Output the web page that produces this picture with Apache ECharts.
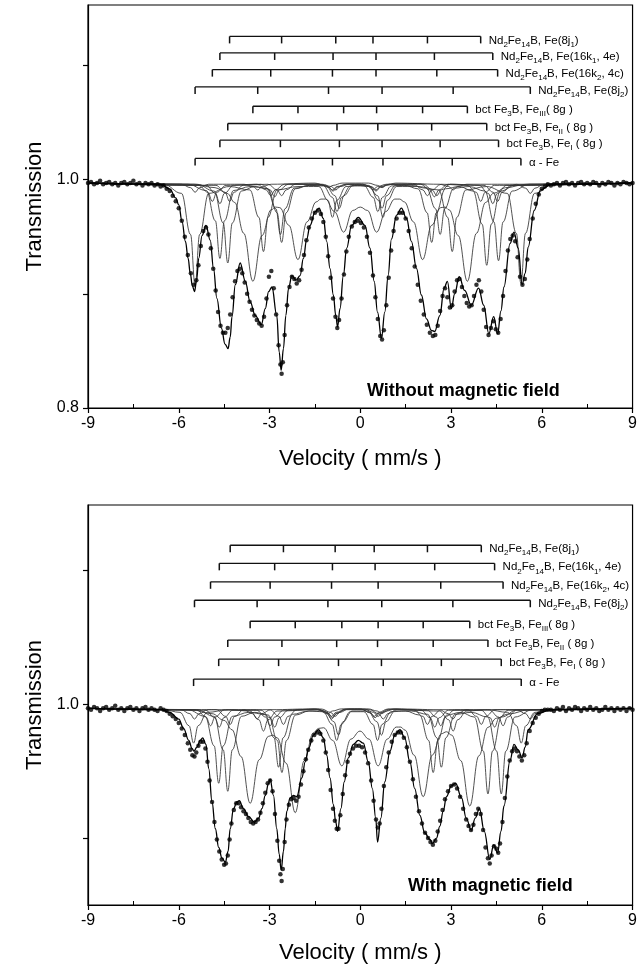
<!DOCTYPE html>
<html>
<head>
<meta charset="utf-8">
<script src="https://cdn.jsdelivr.net/npm/echarts@6/dist/echarts.min.js"></script>
<style>
  html, body { margin: 0; padding: 0; background: #fff; }
  #chart { width: 640px; height: 975px; }
</style>
</head>
<body>
<div id="chart"></div>
<script>
// Mössbauer spectra of a Nd2Fe14B / Fe3B / α-Fe nanocomposite, without and with magnetic field.

// ---------- tick labels ----------
const xTicks = [-9, -6, -3, 0, 3, 6, 9];
const xMinorTicks = [-7.5, -4.5, -1.5, 1.5, 4.5, 7.5];
const topYTicks = [0.8, 0.9, 1.0, 1.1];
const topYLabels = [0.8, 1.0];
const botYTicks = [0.9, 1.0, 1.1];
const botYLabels = [1.0];

// ---------- sub-spectrum line positions (mm/s) ----------
const siteNames = [
  'Nd_{2}Fe_{14}B, Fe(8j_{1})',
  'Nd_{2}Fe_{14}B, Fe(16k_{1}, 4e)',
  'Nd_{2}Fe_{14}B, Fe(16k_{2}, 4c)',
  'Nd_{2}Fe_{14}B, Fe(8j_{2})',
  'bct Fe_{3}B, Fe_{III}( 8g )',
  'bct Fe_{3}B, Fe_{II} ( 8g )',
  'bct Fe_{3}B, Fe_{I} ( 8g )',
  'α - Fe'
];
const topLines = [
  [-4.32, -2.60, -0.81, 0.42, 2.22, 3.98],
  [-4.64, -2.83, -0.90, 0.52, 2.45, 4.38],
  [-4.89, -2.96, -0.92, 0.52, 2.53, 4.54],
  [-5.46, -3.39, -1.05, 0.72, 3.07, 5.62],
  [-3.55, -2.06, -0.55, 0.54, 2.06, 3.54],
  [-4.38, -2.60, -0.77, 0.58, 2.36, 4.18],
  [-4.64, -2.64, -0.69, 0.72, 2.64, 4.57],
  [-5.46, -3.20, -0.92, 0.75, 3.04, 5.31]
];
const botLines = [
  [-4.30, -2.54, -0.83, 0.46, 2.22, 4.00],
  [-4.66, -2.83, -0.92, 0.49, 2.46, 4.44],
  [-4.95, -2.98, -0.95, 0.59, 2.66, 4.72],
  [-5.48, -3.41, -1.07, 0.71, 3.06, 5.62],
  [-3.64, -2.15, -0.61, 0.59, 2.08, 3.62],
  [-4.38, -2.59, -0.78, 0.57, 2.41, 4.22],
  [-4.68, -2.70, -0.72, 0.70, 2.68, 4.66],
  [-5.51, -3.20, -0.95, 0.76, 3.07, 5.32]
];

// ---------- measured spectra (velocity, transmission) ----------
const topDots = [
  [-9.0,.997],[-8.9,.998],[-8.8,.996],[-8.7,.997],[-8.6,.999],[-8.5,.996],[-8.4,.997],[-8.3,.998],[-8.2,.996],[-8.1,.997],
  [-8.0,.995],[-7.9,.997],[-7.8,.998],[-7.7,.996],[-7.6,.997],[-7.5,.999],[-7.4,.996],[-7.3,.997],[-7.2,.995],[-7.1,.997],
  [-7.0,.996],[-6.9,.997],[-6.8,.995],[-6.7,.996],[-6.6,.994],[-6.5,.995],
  [-6.4,.992],[-6.3,.990],[-6.2,.986],[-6.1,.981],[-6.0,.975],[-5.9,.964],[-5.8,.950],[-5.7,.934],[-5.6,.918],[-5.5,.908],
  [-5.42,.912],[-5.35,.925],[-5.27,.942],[-5.19,.955],[-5.1,.958],[-5.02,.952],[-4.94,.940],[-4.86,.922],[-4.78,.903],[-4.7,.884],
  [-4.62,.872],[-4.54,.866],[-4.46,.866],[-4.38,.870],[-4.3,.882],[-4.22,.897],[-4.14,.911],[-4.06,.920],[-3.98,.922],[-3.9,.918],
  [-3.82,.910],[-3.74,.900],[-3.66,.893],[-3.58,.886],[-3.5,.881],[-3.42,.877],[-3.34,.874],[-3.26,.872],[-3.18,.880],[-3.1,.896],
  [-3.02,.915],[-2.94,.920],[-2.86,.905],[-2.78,.882],[-2.7,.855],[-2.64,.838],[-2.6,.830],[-2.56,.840],[-2.5,.864],[-2.42,.890],
  [-2.34,.906],[-2.26,.915],[-2.18,.913],[-2.1,.909],[-2.02,.912],[-1.94,.921],[-1.86,.934],[-1.78,.947],[-1.7,.958],[-1.6,.966],
  [-1.5,.971],[-1.4,.973],[-1.3,.970],[-1.22,.963],[-1.14,.950],[-1.06,.933],[-0.98,.914],[-0.9,.896],[-0.82,.880],[-0.76,.870],
  [-0.7,.877],[-0.62,.896],[-0.54,.917],[-0.46,.937],[-0.38,.950],[-0.28,.959],[-0.18,.963],[-0.08,.964],[0.02,.962],[0.12,.958],
  [0.22,.950],[0.32,.936],[0.42,.916],[0.5,.897],[0.58,.878],[0.66,.863],[0.72,.860],[0.78,.868],[0.86,.890],[0.94,.914],
  [1.02,.938],[1.1,.955],[1.2,.966],[1.3,.971],[1.4,.971],[1.5,.966],[1.6,.955],[1.7,.940],[1.8,.924],[1.9,.908],
  [2.0,.894],[2.1,.882],[2.2,.873],[2.3,.866],[2.4,.863],[2.48,.864],[2.56,.872],[2.64,.885],[2.72,.898],[2.8,.905],
  [2.88,.897],[2.96,.888],[3.04,.890],[3.12,.902],[3.2,.912],[3.28,.913],[3.36,.906],[3.44,.898],[3.52,.892],[3.6,.889],
  [3.68,.890],[3.76,.898],[3.84,.908],[3.92,.912],[4.0,.902],[4.08,.886],[4.16,.871],[4.24,.864],[4.32,.870],[4.4,.876],
  [4.48,.869],[4.56,.866],[4.64,.878],[4.72,.898],[4.8,.920],[4.88,.938],[4.96,.948],[5.04,.951],[5.12,.946],[5.2,.932],
  [5.28,.915],[5.36,.908],[5.44,.913],[5.52,.930],[5.6,.948],[5.7,.966],[5.8,.979],[5.9,.987],[6.0,.992],[6.1,.994],[6.2,.996],
  [6.3,.995],[6.4,.996],[6.5,.997],[6.6,.995],[6.7,.997],[6.8,.998],[6.9,.996],[7.0,.997],[7.1,.995],[7.2,.997],
  [7.3,.998],[7.4,.996],[7.5,.997],[7.6,.996],[7.7,.998],[7.8,.997],[7.9,.995],[8.0,.997],[8.1,.996],[8.2,.998],
  [8.3,.997],[8.4,.995],[8.5,.997],[8.6,.996],[8.7,.998],[8.8,.997],[8.9,.996],[9.0,.997]
];
const botDots = [
  [-9.0,.997],[-8.9,.996],[-8.8,.998],[-8.7,.997],[-8.6,.995],[-8.5,.997],[-8.4,.998],[-8.3,.996],[-8.2,.997],[-8.1,.999],
  [-8.0,.996],[-7.9,.997],[-7.8,.995],[-7.7,.997],[-7.6,.998],[-7.5,.996],[-7.4,.997],[-7.3,.995],[-7.2,.997],[-7.1,.998],
  [-7.0,.996],[-6.9,.997],[-6.8,.996],[-6.7,.995],[-6.6,.997],[-6.5,.996],
  [-6.4,.995],[-6.3,.993],[-6.2,.991],[-6.1,.989],[-6.0,.986],[-5.9,.982],[-5.8,.977],[-5.7,.971],[-5.62,.966],[-5.55,.962],
  [-5.48,.961],[-5.42,.964],[-5.35,.969],[-5.28,.972],[-5.2,.972],[-5.12,.967],[-5.05,.957],[-4.98,.943],[-4.9,.927],[-4.82,.912],
  [-4.74,.899],[-4.66,.890],[-4.58,.884],[-4.5,.880],[-4.44,.881],[-4.38,.887],[-4.32,.899],[-4.26,.911],[-4.18,.921],[-4.1,.926],
  [-4.02,.926],[-3.94,.923],[-3.86,.920],[-3.78,.918],[-3.7,.915],[-3.62,.912],[-3.54,.911],[-3.46,.912],[-3.38,.914],[-3.3,.919],
  [-3.22,.926],[-3.14,.934],[-3.06,.941],[-2.98,.943],[-2.9,.935],[-2.82,.918],[-2.74,.898],[-2.68,.883],[-2.64,.873],[-2.6,.868],
  [-2.56,.877],[-2.5,.897],[-2.44,.914],[-2.36,.925],[-2.28,.929],[-2.2,.930],[-2.12,.928],[-2.04,.931],[-1.96,.940],[-1.88,.950],
  [-1.8,.959],[-1.72,.966],[-1.62,.973],[-1.52,.977],[-1.42,.979],[-1.32,.978],[-1.22,.973],[-1.14,.964],[-1.06,.951],[-0.98,.936],
  [-0.9,.922],[-0.84,.913],[-0.78,.907],[-0.72,.907],[-0.66,.917],[-0.58,.933],[-0.5,.947],[-0.42,.957],[-0.34,.963],[-0.24,.967],
  [-0.14,.969],[-0.04,.969],[0.06,.968],[0.16,.964],[0.26,.956],[0.36,.943],[0.44,.928],[0.52,.914],[0.58,.908],[0.64,.911],
  [0.7,.922],[0.78,.939],[0.86,.953],[0.94,.964],[1.04,.972],[1.14,.977],[1.24,.979],[1.34,.979],[1.44,.975],[1.54,.968],
  [1.64,.957],[1.74,.944],[1.84,.931],[1.94,.920],[2.04,.911],[2.14,.904],[2.24,.900],[2.32,.897],[2.4,.895],[2.48,.898],
  [2.56,.905],[2.64,.913],[2.72,.921],[2.8,.929],[2.9,.935],[3.0,.939],[3.1,.940],[3.2,.937],[3.3,.931],[3.4,.922],
  [3.5,.914],[3.58,.909],[3.66,.906],[3.74,.910],[3.82,.918],[3.9,.922],[3.98,.918],[4.06,.906],[4.14,.893],[4.22,.885],
  [4.28,.881],[4.34,.887],[4.42,.894],[4.5,.892],[4.56,.889],[4.62,.896],[4.7,.912],[4.78,.930],[4.86,.946],[4.94,.958],
  [5.02,.965],[5.1,.967],[5.18,.965],[5.26,.961],[5.34,.958],[5.42,.962],[5.5,.971],[5.6,.980],[5.7,.986],[5.8,.990],
  [5.9,.993],[6.0,.995],[6.1,.996],[6.2,.996],
  [6.3,.996],[6.4,.995],[6.5,.997],[6.6,.996],[6.7,.998],[6.8,.995],[6.9,.997],[7.0,.996],[7.1,.998],[7.2,.997],
  [7.3,.995],[7.4,.997],[7.5,.996],[7.6,.998],[7.7,.996],[7.8,.997],[7.9,.995],[8.0,.996],[8.1,.998],[8.2,.996],
  [8.3,.997],[8.4,.995],[8.5,.997],[8.6,.996],[8.7,.997],[8.8,.995],[8.9,.997],[9.0,.996]
];

// ---------- fitted envelopes ----------
const topFit = [
  [-9,.997],[-6.6,.996],[-6.3,.992],[-6.1,.984],[-6.0,.978],[-5.89,.963],[-5.78,.946],[-5.69,.931],[-5.62,.918],[-5.55,.907],
  [-5.48,.902],[-5.41,.912],[-5.34,.931],[-5.23,.951],[-5.10,.960],[-4.96,.947],[-4.85,.922],[-4.74,.896],[-4.59,.870],[-4.47,.856],
  [-4.37,.852],[-4.30,.862],[-4.24,.880],[-4.13,.908],[-3.97,.927],[-3.80,.911],[-3.64,.893],[-3.47,.881],[-3.27,.873],[-3.14,.887],
  [-3.03,.902],[-2.92,.906],[-2.76,.881],[-2.68,.849],[-2.615,.833],[-2.54,.852],[-2.46,.881],[-2.37,.905],[-2.26,.916],[-2.12,.912],
  [-1.99,.916],[-1.88,.931],[-1.77,.948],[-1.66,.960],[-1.49,.972],[-1.36,.975],[-1.22,.966],[-1.11,.946],[-1.0,.922],[-0.89,.899],
  [-0.81,.881],[-0.75,.871],[-0.67,.887],[-0.56,.916],[-0.45,.940],[-0.285,.960],[-0.065,.967],[0.155,.960],[0.32,.940],[0.46,.911],
  [0.57,.884],[0.70,.861],[0.81,.884],[0.92,.916],[1.03,.948],[1.2,.969],[1.36,.975],[1.53,.966],[1.69,.946],[1.86,.922],
  [2.02,.899],[2.19,.878],[2.35,.868],[2.46,.867],[2.63,.881],[2.77,.905],[2.88,.911],[3.01,.887],[3.12,.900],[3.27,.915],
  [3.45,.903],[3.67,.890],[3.91,.905],[4.08,.890],[4.25,.865],[4.41,.880],[4.54,.865],[4.65,.885],[4.75,.906],[4.95,.944],
  [5.08,.954],[5.22,.940],[5.35,.908],[5.45,.918],[5.55,.941],[5.75,.973],[5.96,.991],[6.3,.996],[9,.997]
];
const botFit = [
  [-9,.997],[-6.6,.996],[-6.3,.994],[-6.0,.989],[-5.84,.982],[-5.67,.973],[-5.56,.967],[-5.5,.965],[-5.40,.968],[-5.29,.973],
  [-5.21,.975],[-5.10,.970],[-5.01,.952],[-4.90,.927],[-4.79,.907],[-4.68,.893],[-4.57,.885],[-4.46,.882],[-4.37,.890],[-4.30,.907],
  [-4.19,.922],[-4.08,.927],[-4.0,.928],[-3.86,.922],[-3.69,.916],[-3.5,.912],[-3.36,.915],[-3.25,.922],[-3.14,.932],[-3.03,.941],
  [-2.98,.944],[-2.87,.932],[-2.76,.907],[-2.68,.888],[-2.615,.876],[-2.54,.890],[-2.48,.907],[-2.43,.920],[-2.32,.930],[-2.21,.932],
  [-2.1,.931],[-1.93,.945],[-1.82,.957],[-1.71,.967],[-1.55,.977],[-1.38,.981],[-1.22,.975],[-1.11,.962],[-1.0,.945],[-0.89,.925],
  [-0.81,.912],[-0.75,.905],[-0.64,.922],[-0.53,.942],[-0.395,.960],[-0.23,.970],[-0.065,.973],[0.10,.971],[0.265,.957],[0.40,.937],
  [0.51,.915],[0.57,.897],[0.68,.915],[0.81,.942],[0.98,.965],[1.14,.977],[1.31,.981],[1.47,.975],[1.64,.957],[1.80,.937],
  [1.97,.917],[2.13,.904],[2.30,.899],[2.39,.896],[2.52,.900],[2.63,.909],[2.74,.920],[2.85,.931],[3.01,.939],[3.15,.941],
  [3.35,.930],[3.5,.915],[3.67,.906],[3.8,.915],[3.94,.922],[4.1,.905],[4.28,.884],[4.41,.895],[4.54,.889],[4.65,.905],
  [4.75,.924],[4.95,.958],[5.08,.970],[5.22,.966],[5.35,.960],[5.45,.968],[5.55,.981],[5.86,.993],[6.3,.996],[9,.997]
];

// ---------- fitted sub-spectra, without field ----------
const top8j1 = [[-9,.997],[-4.77,.995],[-4.47,.989],[-4.32,.981],[-4.17,.989],[-3.87,.995],[-3.05,.996],[-2.75,.991],[-2.60,.986],[-2.45,.991],[-2.15,.996],[-1.26,.996],[-0.96,.994],[-0.81,.991],[-0.66,.994],[-0.36,.996],[-0.03,.996],[0.27,.994],[0.42,.991],[0.57,.994],[0.87,.996],[1.77,.996],[2.07,.991],[2.22,.986],[2.37,.991],[2.67,.996],[3.53,.995],[3.83,.989],[3.98,.981],[4.13,.989],[4.43,.995],[9,.997]];
const top16k1 = [[-9,.997],[-5.09,.995],[-4.79,.988],[-4.64,.979],[-4.49,.988],[-4.19,.995],[-3.28,.996],[-2.98,.991],[-2.83,.985],[-2.68,.991],[-2.38,.996],[-1.35,.996],[-1.05,.9935],[-0.90,.990],[-0.75,.9935],[-0.45,.996],[0.07,.996],[0.37,.9935],[0.52,.990],[0.67,.9935],[0.97,.996],[2.00,.996],[2.30,.991],[2.45,.985],[2.60,.991],[2.90,.996],[3.93,.995],[4.23,.988],[4.38,.979],[4.53,.988],[4.83,.995],[9,.997]];
const top16k2 = [[-9,.997],[-5.34,.995],[-5.04,.989],[-4.89,.981],[-4.74,.989],[-4.44,.995],[-3.41,.996],[-3.11,.991],[-2.96,.986],[-2.81,.991],[-2.51,.996],[-1.37,.996],[-1.07,.994],[-0.92,.991],[-0.77,.994],[-0.47,.996],[0.07,.996],[0.37,.994],[0.52,.991],[0.67,.994],[0.97,.996],[2.08,.996],[2.38,.991],[2.53,.986],[2.68,.991],[2.98,.996],[4.09,.995],[4.39,.989],[4.54,.981],[4.69,.989],[4.99,.995],[9,.997]];
const top8j2 = [[-9,.997],[-5.91,.996],[-5.61,.993],[-5.46,.989],[-5.31,.993],[-5.01,.996],[-3.84,.996],[-3.54,.994],[-3.39,.991],[-3.24,.994],[-2.94,.996],[-1.5,.997],[-1.2,.995],[-1.05,.993],[-0.9,.995],[-0.6,.997],[0.27,.997],[0.57,.995],[0.72,.993],[0.87,.995],[1.17,.997],[2.62,.996],[2.92,.994],[3.07,.991],[3.22,.994],[3.52,.996],[5.17,.996],[5.47,.9925],[5.62,.988],[5.77,.9925],[6.07,.996],[9,.997]];
const topFe3 = [[-9,.997],[-5.5,.996],[-4.8,.993],[-4.4,.988],[-4.15,.980],[-3.85,.953],[-3.55,.911],[-3.25,.951],[-2.95,.9735],[-2.8,.976],[-2.66,.9755],[-2.36,.960],[-2.06,.930],[-1.76,.963],[-1.46,.9805],[-1.3,.983],[-1.15,.983],[-0.85,.972],[-0.55,.954],[-0.25,.973],[0,.976],[0.24,.973],[0.54,.954],[0.84,.972],[1.14,.983],[1.3,.983],[1.46,.9805],[1.76,.963],[2.06,.930],[2.36,.960],[2.66,.9755],[2.8,.976],[2.94,.9735],[3.24,.951],[3.54,.911],[3.84,.953],[4.14,.980],[4.4,.988],[4.8,.993],[5.5,.996],[9,.997]];
const topFe2 = [[-9,.997],[-5.4,.996],[-4.83,.990],[-4.53,.962],[-4.38,.927],[-4.23,.962],[-3.93,.990],[-3.49,.994],[-3.05,.992],[-2.75,.971],[-2.60,.945],[-2.45,.971],[-2.15,.992],[-1.69,.995],[-1.22,.9945],[-0.92,.9845],[-0.77,.972],[-0.62,.9845],[-0.32,.9945],[0.13,.9945],[0.43,.9845],[0.58,.972],[0.73,.9845],[1.03,.9945],[1.47,.995],[1.91,.992],[2.21,.971],[2.36,.945],[2.51,.971],[2.81,.992],[3.27,.994],[3.73,.990],[4.03,.961],[4.18,.925],[4.33,.961],[4.63,.990],[5.2,.996],[9,.997]];
const topFe1 = [[-9,.997],[-5.7,.996],[-5.09,.9905],[-4.79,.964],[-4.64,.931],[-4.49,.964],[-4.19,.9905],[-3.64,.994],[-3.09,.9925],[-2.79,.9745],[-2.64,.952],[-2.49,.9745],[-2.19,.9925],[-1.67,.995],[-1.14,.995],[-0.84,.986],[-0.69,.975],[-0.54,.986],[-0.24,.995],[0.27,.995],[0.57,.986],[0.72,.975],[0.87,.986],[1.17,.995],[1.68,.995],[2.19,.9925],[2.49,.9745],[2.64,.952],[2.79,.9745],[3.09,.9925],[3.6,.994],[4.12,.990],[4.42,.963],[4.57,.929],[4.72,.963],[5.02,.990],[5.6,.996],[9,.997]];
const topAFe = [[-9,.997],[-6.5,.996],[-5.91,.988],[-5.61,.952],[-5.46,.907],[-5.31,.952],[-5.01,.988],[-4.33,.994],[-3.65,.991],[-3.35,.967],[-3.20,.937],[-3.05,.967],[-2.75,.991],[-2.06,.994],[-1.37,.994],[-1.07,.982],[-0.92,.967],[-0.77,.982],[-0.47,.994],[-0.08,.995],[0.30,.994],[0.60,.982],[0.75,.967],[0.90,.982],[1.20,.994],[1.9,.994],[2.59,.991],[2.89,.967],[3.04,.937],[3.19,.967],[3.49,.991],[4.17,.994],[4.86,.988],[5.16,.953],[5.31,.909],[5.46,.953],[5.76,.988],[6.4,.996],[9,.997]];

// ---------- fitted sub-spectra, with field ----------
const bot8j1 = [[-9,.997],[-4.75,.996],[-4.45,.991],[-4.30,.985],[-4.15,.991],[-3.85,.996],[-2.99,.996],[-2.69,.991],[-2.54,.985],[-2.39,.991],[-2.09,.996],[-1.28,.9965],[-0.98,.994],[-0.83,.991],[-0.68,.994],[-0.38,.9965],[0.01,.9965],[0.31,.994],[0.46,.991],[0.61,.994],[0.91,.9965],[1.77,.996],[2.07,.991],[2.22,.985],[2.37,.991],[2.67,.996],[3.55,.996],[3.85,.991],[4.00,.985],[4.15,.991],[4.45,.996],[9,.997]];
const bot16k1 = [[-9,.997],[-5.11,.9956],[-4.81,.990],[-4.66,.983],[-4.51,.990],[-4.21,.9956],[-3.28,.9956],[-2.98,.990],[-2.83,.983],[-2.68,.990],[-2.38,.9956],[-1.37,.9963],[-1.07,.9935],[-0.92,.990],[-0.77,.9935],[-0.47,.9963],[0.04,.9963],[0.34,.9935],[0.49,.990],[0.64,.9935],[0.94,.9963],[2.01,.9956],[2.31,.990],[2.46,.983],[2.61,.990],[2.91,.9956],[3.99,.9956],[4.29,.990],[4.44,.983],[4.59,.990],[4.89,.9956],[9,.997]];
const bot16k2 = [[-9,.997],[-5.4,.9957],[-5.1,.9905],[-4.95,.984],[-4.8,.9905],[-4.5,.9957],[-3.43,.9957],[-3.13,.9905],[-2.98,.984],[-2.83,.9905],[-2.53,.9957],[-1.4,.9964],[-1.1,.994],[-0.95,.991],[-0.8,.994],[-0.5,.9964],[0.14,.9964],[0.44,.994],[0.59,.991],[0.74,.994],[1.04,.9964],[2.21,.9957],[2.51,.9905],[2.66,.984],[2.81,.9905],[3.11,.9957],[4.27,.9957],[4.57,.9905],[4.72,.984],[4.87,.9905],[5.17,.9957],[9,.997]];
const bot8j2 = [[-9,.997],[-5.93,.996],[-5.63,.993],[-5.48,.989],[-5.33,.993],[-5.03,.996],[-3.86,.996],[-3.56,.993],[-3.41,.989],[-3.26,.993],[-2.96,.996],[-1.52,.9966],[-1.22,.995],[-1.07,.993],[-0.92,.995],[-0.62,.9966],[0.26,.9966],[0.56,.995],[0.71,.993],[0.86,.995],[1.16,.9966],[2.61,.996],[2.91,.993],[3.06,.989],[3.21,.993],[3.51,.996],[5.17,.996],[5.47,.993],[5.62,.989],[5.77,.993],[6.07,.996],[9,.997]];
const botFe3 = [[-9,.997],[-5.6,.996],[-4.9,.993],[-4.5,.988],[-4.24,.981],[-3.94,.961],[-3.64,.926],[-3.34,.9586],[-3.04,.976],[-2.895,.977],[-2.75,.975],[-2.45,.956],[-2.15,.919],[-1.85,.958],[-1.55,.9787],[-1.38,.982],[-1.21,.9825],[-0.91,.973],[-0.61,.954],[-0.31,.974],[-0.01,.980],[0.29,.974],[0.59,.954],[0.89,.974],[1.19,.983],[1.335,.983],[1.48,.9807],[1.78,.962],[2.08,.931],[2.38,.962],[2.68,.978],[2.85,.9795],[3.02,.977],[3.32,.958],[3.62,.924],[3.92,.9615],[4.22,.9828],[4.5,.9896],[4.9,.9928],[5.6,.996],[9,.997]];
const botFe2 = [[-9,.997],[-5.4,.996],[-4.83,.991],[-4.53,.966],[-4.38,.935],[-4.23,.966],[-3.93,.991],[-3.49,.994],[-3.04,.992],[-2.74,.973],[-2.59,.949],[-2.44,.973],[-2.14,.992],[-1.69,.995],[-1.23,.9945],[-0.93,.985],[-0.78,.973],[-0.63,.985],[-0.33,.9945],[0.12,.9945],[0.42,.985],[0.57,.973],[0.72,.985],[1.02,.9945],[1.49,.995],[1.96,.992],[2.26,.973],[2.41,.949],[2.56,.973],[2.86,.992],[3.32,.994],[3.77,.9905],[4.07,.965],[4.22,.933],[4.37,.965],[4.67,.9905],[5.2,.996],[9,.997]];
const botFe1 = [[-9,.997],[-5.7,.996],[-5.13,.991],[-4.83,.969],[-4.68,.941],[-4.53,.969],[-4.23,.991],[-3.69,.994],[-3.15,.9925],[-2.85,.975],[-2.70,.953],[-2.55,.975],[-2.25,.9925],[-1.71,.995],[-1.17,.995],[-0.87,.987],[-0.72,.977],[-0.57,.987],[-0.27,.995],[0.25,.995],[0.55,.987],[0.70,.977],[0.85,.987],[1.15,.995],[1.69,.995],[2.23,.9925],[2.53,.975],[2.68,.953],[2.83,.975],[3.13,.9925],[3.67,.994],[4.21,.9905],[4.51,.965],[4.66,.933],[4.81,.965],[5.11,.9905],[5.7,.996],[9,.997]];
const botAFe = [[-9,.997],[-6.5,.996],[-5.96,.994],[-5.66,.984],[-5.51,.971],[-5.36,.984],[-5.06,.994],[-4.35,.996],[-3.65,.995],[-3.35,.9885],[-3.20,.980],[-3.05,.9885],[-2.75,.995],[-1.4,.996],[-1.1,.993],[-0.95,.989],[-0.8,.993],[-0.5,.996],[0.31,.996],[0.61,.993],[0.76,.989],[0.91,.993],[1.21,.996],[2.62,.995],[2.92,.9885],[3.07,.980],[3.22,.9885],[3.52,.995],[4.2,.996],[4.87,.994],[5.17,.984],[5.32,.971],[5.47,.984],[5.77,.994],[6.4,.996],[9,.997]];

// ---------- layout ----------
const FONT = "'Liberation Sans', Arial, Helvetica, sans-serif";
const topLevels = [1.1255, 1.111, 1.0964, 1.0812, 1.0643, 1.0492, 1.0346, 1.0186];
const botLevels = [1.1189, 1.1054, 1.0916, 1.0778, 1.0621, 1.0480, 1.0338, 1.0189];

// 'Fe_{3}B' -> rich text with subscript tokens
function toRich(s) {
  return s.split(/(_\{[^}]*\})/).filter(p => p.length).map(p =>
    p.startsWith('_{') ? '{s|' + p.slice(2, -1) + '}' : '{n|' + p + '}'
  ).join('');
}
const RICH = {
  n: { fontSize: 11.5, fontFamily: FONT, color: '#111', lineHeight: 16 },
  s: { fontSize: 8, fontFamily: FONT, color: '#111', verticalAlign: 'bottom' }
};

function stickSeries(lines, levels, xi, yi) {
  return {
    type: 'custom', xAxisIndex: xi, yAxisIndex: yi, silent: true, z: 5,
    data: lines.map((l, i) => [i]),
    renderItem: function (params, api) {
      const i = api.value(0);
      const pts = lines[i].map(v => api.coord([v, levels[i]]));
      const kids = [{
        type: 'line',
        shape: { x1: pts[0][0], y1: pts[0][1], x2: pts[5][0], y2: pts[5][1] },
        style: { stroke: '#111', lineWidth: 1.3 }
      }];
      pts.forEach(p => kids.push({
        type: 'line',
        shape: { x1: p[0], y1: p[1], x2: p[0], y2: p[1] + 7 },
        style: { stroke: '#111', lineWidth: 1.5 }
      }));
      kids.push({
        type: 'text', x: pts[5][0] + 8, y: pts[5][1] + 4,
        style: { text: toRich(siteNames[i]), rich: RICH, align: 'left', verticalAlign: 'middle' }
      });
      return { type: 'group', children: kids };
    }
  };
}

function subSeries(data, xi, yi) {
  return {
    type: 'line', xAxisIndex: xi, yAxisIndex: yi, data: data,
    smooth: 0.4, smoothMonotone: 'x', showSymbol: false, symbol: 'none', silent: true, z: 2,
    lineStyle: { color: '#333', width: 0.85 }
  };
}
function fitSeries(data, xi, yi) {
  return {
    type: 'line', xAxisIndex: xi, yAxisIndex: yi, data: data,
    smooth: 0.4, smoothMonotone: 'x', showSymbol: false, symbol: 'none', silent: true, z: 3,
    lineStyle: { color: '#000', width: 1.3 }
  };
}
function dotSeries(data, xi, yi) {
  return {
    type: 'scatter', xAxisIndex: xi, yAxisIndex: yi, data: data,
    symbol: 'circle', symbolSize: 4.5, silent: true, z: 4,
    itemStyle: { color: '#000' }
  };
}

function mainX(gridIndex) {
  return {
    gridIndex, type: 'value', min: -9, max: 9, interval: 3, position: 'bottom',
    axisLine: { show: true, onZero: false, lineStyle: { color: '#000', width: 1.2 } },
    axisTick: { show: true, inside: false, length: 5, customValues: xTicks, lineStyle: { color: '#000', width: 1.2 } },
    axisLabel: { show: true, customValues: xTicks, fontSize: 16, fontFamily: FONT, color: '#000', margin: 8 },
    splitLine: { show: false },
    name: 'Velocity ( mm/s )', nameLocation: 'middle', nameGap: gridIndex === 0 ? 40 : 37,
    nameTextStyle: { fontSize: 22, fontFamily: FONT, color: '#000' }
  };
}
function minorX(gridIndex) {
  return {
    gridIndex, type: 'value', min: -9, max: 9, interval: 1.5, position: 'bottom',
    axisLine: { show: false, onZero: false },
    axisTick: { show: true, inside: true, length: 4, customValues: xMinorTicks, lineStyle: { color: '#000', width: 1 } },
    axisLabel: { show: false },
    splitLine: { show: false }
  };
}
function mainY(gridIndex, min, max, ticks, labels) {
  return {
    gridIndex, type: 'value', min, max, position: 'left',
    axisLine: { show: true, onZero: false, lineStyle: { color: '#000', width: 1.2 } },
    axisTick: { show: true, inside: false, length: 5, customValues: ticks, lineStyle: { color: '#000', width: 1.2 } },
    axisLabel: { show: true, customValues: labels, formatter: v => v.toFixed(1), fontSize: 16, fontFamily: FONT, color: '#000', margin: 9 },
    splitLine: { show: false },
    name: 'Transmission', nameLocation: 'middle', nameGap: 38, nameRotate: 90,
    nameTextStyle: { fontSize: 22, fontFamily: FONT, color: '#000' }
  };
}

const chart = echarts.init(document.getElementById('chart'), null, { renderer: 'canvas' });
chart.setOption({
  animation: false,
  backgroundColor: '#fff',
  grid: [
    { left: 88, right: 5, top: 5, height: 403, show: true, borderColor: '#000', borderWidth: 1.2, backgroundColor: 'transparent' },
    { left: 88, right: 7, top: 505, height: 400, show: true, borderColor: '#000', borderWidth: 1.2, backgroundColor: 'transparent' }
  ],
  xAxis: [mainX(0), minorX(0), mainX(1), minorX(1)],
  yAxis: [
    mainY(0, 0.8, 1.153, topYTicks, topYLabels),
    mainY(1, 0.85, 1.149, botYTicks, botYLabels)
  ],
  graphic: [
    { type: 'text', left: 367, top: 382, silent: true,
      style: { text: 'Without magnetic field', font: 'bold 18px ' + FONT, fill: '#000' } },
    { type: 'text', left: 408, top: 877, silent: true,
      style: { text: 'With magnetic field', font: 'bold 18px ' + FONT, fill: '#000' } }
  ],
  series: [
    subSeries(top8j1, 0, 0), subSeries(top16k1, 0, 0), subSeries(top16k2, 0, 0), subSeries(top8j2, 0, 0),
    subSeries(topFe3, 0, 0), subSeries(topFe2, 0, 0), subSeries(topFe1, 0, 0), subSeries(topAFe, 0, 0),
    fitSeries(topFit, 0, 0), dotSeries(topDots, 0, 0), stickSeries(topLines, topLevels, 0, 0),
    subSeries(bot8j1, 2, 1), subSeries(bot16k1, 2, 1), subSeries(bot16k2, 2, 1), subSeries(bot8j2, 2, 1),
    subSeries(botFe3, 2, 1), subSeries(botFe2, 2, 1), subSeries(botFe1, 2, 1), subSeries(botAFe, 2, 1),
    fitSeries(botFit, 2, 1), dotSeries(botDots, 2, 1), stickSeries(botLines, botLevels, 2, 1)
  ]
});
</script>
</body>
</html>
